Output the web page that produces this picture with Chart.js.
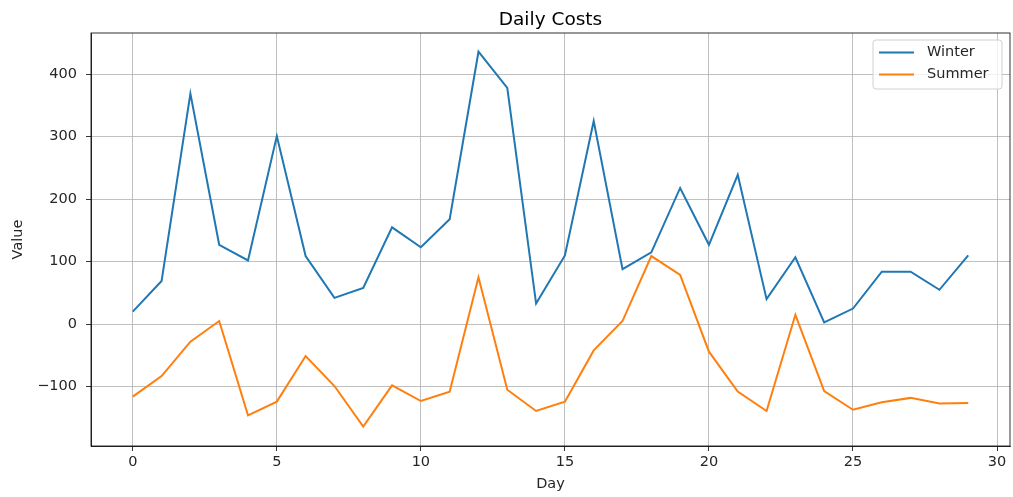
<!DOCTYPE html>
<html>
<head>
<meta charset="utf-8">
<script src="https://cdn.jsdelivr.net/npm/chart.js@4"></script>
<style>
html,body{margin:0;padding:0;background:#fff;}
#wrap{width:1013px;height:497px;position:relative;}
</style>
</head>
<body>
<div id="wrap"><canvas id="c" width="1013" height="497"></canvas></div>
<script>
const days = [0,1,2,3,4,5,6,7,8,9,10,11,12,13,14,15,16,17,18,19,20,21,22,23,24,25,26,27,28,29];
const winter = [20,69,369,127,102,301,109,42,58,155,123,168,436,378,33,110,325,88,115,218,127,239,40,107,3,25,84,84,55,110];
const summer = [-116,-83,-28,5,-146,-124,-51,-99,-164,-98,-123,-108,75,-105,-139,-124,-42,5,109,79,-44,-108,-139,15,-107,-137,-125,-118,-127,-126];
const xTicks = [0,5,10,15,20,25,30];
const yTicks = [-100,0,100,200,300,400];
const seriesLabels = ['Winter','Summer'];
const seriesColors = ['#1f77b4','#ff7f0e'];
const chartTitle = 'Daily Costs';

const FONT = "'DejaVu Sans', sans-serif";
const fmt = v => String(v).replace('-', '\u2212');

const boxPlugin = {
  id: 'boxPlugin',
  afterDraw(chart) {
    const {ctx, chartArea: a} = chart;
    ctx.save();
    ctx.strokeStyle = '#000';
    ctx.lineWidth = 0.8;
    ctx.strokeRect(a.left, a.top, a.right - a.left, a.bottom - a.top);
    // title
    ctx.fillStyle = '#000';
    ctx.font = '18.5px ' + FONT;
    ctx.textAlign = 'center';
    ctx.textBaseline = 'alphabetic';
    ctx.fillText(chartTitle, (a.left + a.right) / 2, 25);
    // legend
    const lx = 873, ly = 40, lw = 129, lh = 49;
    ctx.globalAlpha = 0.8;
    ctx.fillStyle = '#fff';
    ctx.beginPath();
    ctx.roundRect(lx, ly, lw, lh, 3);
    ctx.fill();
    ctx.globalAlpha = 1;
    ctx.strokeStyle = '#d0d0d0';
    ctx.lineWidth = 1;
    ctx.stroke();
    chart.data.datasets.forEach((ds, i) => {
      const y = 52.5 + i * 22;
      ctx.strokeStyle = ds.borderColor;
      ctx.lineWidth = 2;
      ctx.beginPath();
      ctx.moveTo(879, y);
      ctx.lineTo(914, y);
      ctx.stroke();
      ctx.fillStyle = '#262626';
      ctx.font = '14.5px ' + FONT;
      ctx.textBaseline = 'middle';
      ctx.textAlign = 'left';
      ctx.fillText(ds.label, 927, y);
    });
    ctx.restore();
  }
};

new Chart(document.getElementById('c'), {
  type: 'line',
  data: {
    datasets: [
      { label: seriesLabels[0], data: days.map((d, i) => ({x: d, y: winter[i]})), borderColor: seriesColors[0], backgroundColor: seriesColors[0], borderWidth: 2, pointRadius: 0, tension: 0 },
      { label: seriesLabels[1], data: days.map((d, i) => ({x: d, y: summer[i]})), borderColor: seriesColors[1], backgroundColor: seriesColors[1], borderWidth: 2, pointRadius: 0, tension: 0 }
    ]
  },
  options: {
    responsive: false,
    animation: false,
    layout: { padding: { left: 0, right: 3, top: 33, bottom: 0 } },
    plugins: {
      legend: { display: false },
      tooltip: { enabled: false },
      title: { display: false }
    },
    scales: {
      x: {
        type: 'linear',
        min: -1.45,
        max: 30.45,
        afterBuildTicks(scale) { scale.ticks = xTicks.map(v => ({value: v})); },
        afterFit(scale) { scale.height = 51; },
        grid: { color: '#b0b0b0', lineWidth: 0.8, tickColor: '#000', tickLength: 5 },
        border: { display: true, color: '#000', width: 0.8 },
        ticks: { color: '#262626', font: { family: FONT, size: 14.5 }, padding: 3, maxRotation: 0, callback: v => fmt(v) },
        title: { display: true, text: 'Day', color: '#262626', font: { family: FONT, size: 14.5 }, padding: { top: 2, bottom: 4 } }
      },
      y: {
        type: 'linear',
        min: -195,
        max: 466,
        afterBuildTicks(scale) { scale.ticks = yTicks.map(v => ({value: v})); },
        afterFit(scale) { scale.width = 91; },
        grid: { color: '#b0b0b0', lineWidth: 0.8, tickColor: '#000', tickLength: 5 },
        border: { display: true, color: '#000', width: 0.8 },
        ticks: { color: '#262626', font: { family: FONT, size: 14.5 }, padding: 9, callback: v => fmt(v) },
        title: { display: true, text: 'Value', color: '#262626', font: { family: FONT, size: 14.5 }, padding: { top: 10, bottom: 4 } }
      }
    }
  },
  plugins: [boxPlugin]
});
</script>
</body>
</html>
